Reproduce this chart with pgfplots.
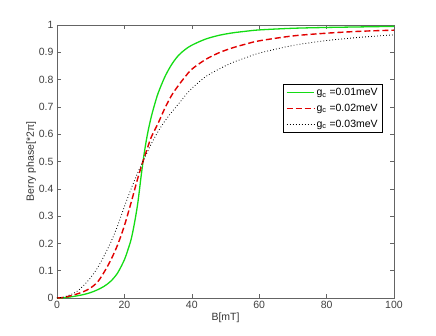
\documentclass[border=0pt]{standalone}
\usepackage{fontspec}
\setmainfont{Liberation Sans}
\usepackage{pgfplots}
\pgfplotsset{compat=1.18}

\definecolor{gcA}{RGB}{20,220,20}
\definecolor{gcB}{RGB}{225,0,0}
\definecolor{axgray}{RGB}{100,100,100}

\begin{document}
\begin{tikzpicture}
\begin{axis}[
  scale only axis,
  width=337pt,
  height=273pt,
  xmin=0, xmax=100,
  ymin=0, ymax=1,
  xtick={0,20,40,60,80,100},
  ytick={0,0.1,0.2,0.3,0.4,0.5,0.6,0.7,0.8,0.9,1},
  yticklabel style={/pgf/number format/fixed},
  /pgf/number format/assume math mode=true,
  tick align=inside,
  tick pos=both,
  major tick length=4pt,
  axis line style={axgray, line width=0.6pt},
  tick style={axgray, line width=0.6pt},
  tick label style={font=\fontsize{10.5}{12}\selectfont, text=black!75},
  label style={font=\fontsize{10.5}{12}\selectfont, text=black!80},
  xlabel={B[mT]},
  ylabel={Berry phase[*2π]},
  xlabel style={yshift=3pt},
  ylabel style={yshift=-4pt},
  legend cell align={left},
  legend style={at={(0.967,0.784)}, anchor=north east, row sep=3pt,
    nodes={font=\fontsize{10.5}{12}\selectfont}},
  legend image post style={xscale=1.6},
]
\addplot[gcA, line width=1.3pt, smooth] coordinates {
(0,0) (2,0.001) (4,0.004) (6,0.008) (8,0.013) (10,0.02) (12,0.03) (14,0.043)
(16,0.062) (18,0.092) (20,0.14) (21,0.175) (22,0.215) (23,0.275) (24,0.35)
(25,0.45) (26,0.54) (27,0.61) (28,0.665) (29,0.71) (30,0.75) (32,0.81)
(34,0.855) (36,0.888) (38,0.91) (40,0.926) (44,0.948) (48,0.962) (52,0.971)
(56,0.977) (60,0.982) (70,0.988) (80,0.991) (90,0.993) (100,0.995)};
\addlegendentry{g\textsubscript{c} =0.01meV}
\addplot[gcB, line width=1.4pt, dash pattern=on 6pt off 3pt, smooth] coordinates {
(0,0) (2,0.002) (4,0.008) (6,0.015) (8,0.024) (10,0.037) (12,0.058) (14,0.095)
(16,0.14) (18,0.195) (20,0.265) (22,0.35) (24,0.44) (25.5,0.5) (27,0.555)
(28,0.59) (30,0.64) (32,0.695) (34,0.742) (36,0.778) (38,0.81) (40,0.838)
(44,0.873) (48,0.898) (52,0.916) (56,0.93) (60,0.942) (70,0.96) (80,0.97)
(90,0.977) (100,0.981)};
\addlegendentry{g\textsubscript{c} =0.02meV}
\addplot[black, line width=0.8pt, dash pattern=on 0.8pt off 2.2pt, smooth] coordinates {
(0,0) (2,0.004) (4,0.012) (6,0.025) (8,0.047) (10,0.075) (12,0.11) (14,0.155)
(16,0.205) (18,0.265) (20,0.335) (22,0.4) (24,0.46) (25.5,0.5) (28,0.565)
(30,0.61) (32,0.648) (34,0.68) (36,0.71) (38.5,0.748) (40,0.768) (44,0.81)
(48,0.838) (52,0.862) (56,0.88) (60,0.897) (70,0.925) (80,0.943) (90,0.955)
(100,0.964)};
\addlegendentry{g\textsubscript{c} =0.03meV}
\end{axis}
\path ([shift={(-57pt,-37pt)}]current axis.south west) rectangle ([shift={(42pt,25pt)}]current axis.north east);
\end{tikzpicture}
\end{document}
